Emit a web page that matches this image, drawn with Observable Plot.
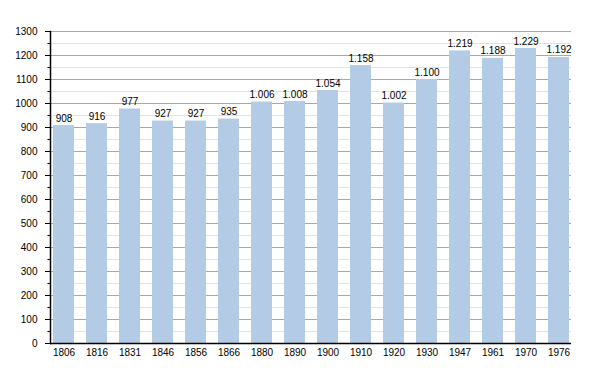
<!DOCTYPE html>
<html>
<head>
<meta charset="utf-8">
<script src="https://cdn.jsdelivr.net/npm/d3@7"></script>
<script src="https://cdn.jsdelivr.net/npm/@observablehq/plot@0.6"></script>
<style>
  html, body { margin: 0; padding: 0; background: #fff; }
  #chart svg { font-family: "Liberation Sans", Arial, sans-serif; }
</style>
</head>
<body>
<div id="chart"></div>
<script>
const years = ["1806","1816","1831","1846","1856","1866","1880","1890","1900","1910","1920","1930","1947","1961","1970","1976"];
const population = [908, 916, 977, 927, 927, 935, 1006, 1008, 1054, 1158, 1002, 1100, 1219, 1188, 1229, 1192];
const majorTicks = d3.range(0, 1301, 100);
const minorTicks = d3.range(50, 1300, 100);

const data = years.map((y, i) => ({year: y, value: population[i]}));
const fmt = v => {
  const s = String(v);
  return s.length > 3 ? s.slice(0, s.length - 3) + "." + s.slice(-3) : s;
};

const chart = Plot.plot({
  width: 600,
  height: 373,
  marginLeft: 50,
  marginRight: 29,
  marginTop: 31,
  marginBottom: 30,
  style: {fontFamily: "Liberation Sans, Arial, sans-serif", fontSize: "10px", color: "#000"},
  x: {type: "band", domain: years, paddingInner: 0.37, paddingOuter: 0, align: 0.5, label: null},
  y: {domain: [0, 1300], label: null},
  marks: [
    Plot.ruleY(minorTicks, {stroke: "#e2e2e2", strokeWidth: 1}),
    Plot.ruleY(majorTicks.filter(d => d > 0), {stroke: "#a8a8a8", strokeWidth: 1}),
    Plot.barY(data, {x: "year", y: "value", fill: "#b3cbe5"}),
    Plot.text(data, {x: "year", y: "value", text: d => fmt(d.value), textAnchor: "middle", lineAnchor: "bottom", dy: -4, fill: "#000", fontSize: 10}),
    Plot.axisY(minorTicks, {tickSize: 2.5, text: null, stroke: "#000", label: null}),
    Plot.axisY(majorTicks, {tickSize: 5, tickPadding: 8, stroke: "#000", label: null, fill: "#000", tickFormat: d => String(d)}),
    Plot.axisX({tickSize: 0, tickPadding: 5, label: null, fill: "#000"}),
    Plot.frame({anchor: "left", stroke: "#000", strokeWidth: 1.5}),
    Plot.ruleY([0], {stroke: "#000", strokeWidth: 1.5})
  ]
});
document.getElementById("chart").appendChild(chart);
</script>
</body>
</html>
